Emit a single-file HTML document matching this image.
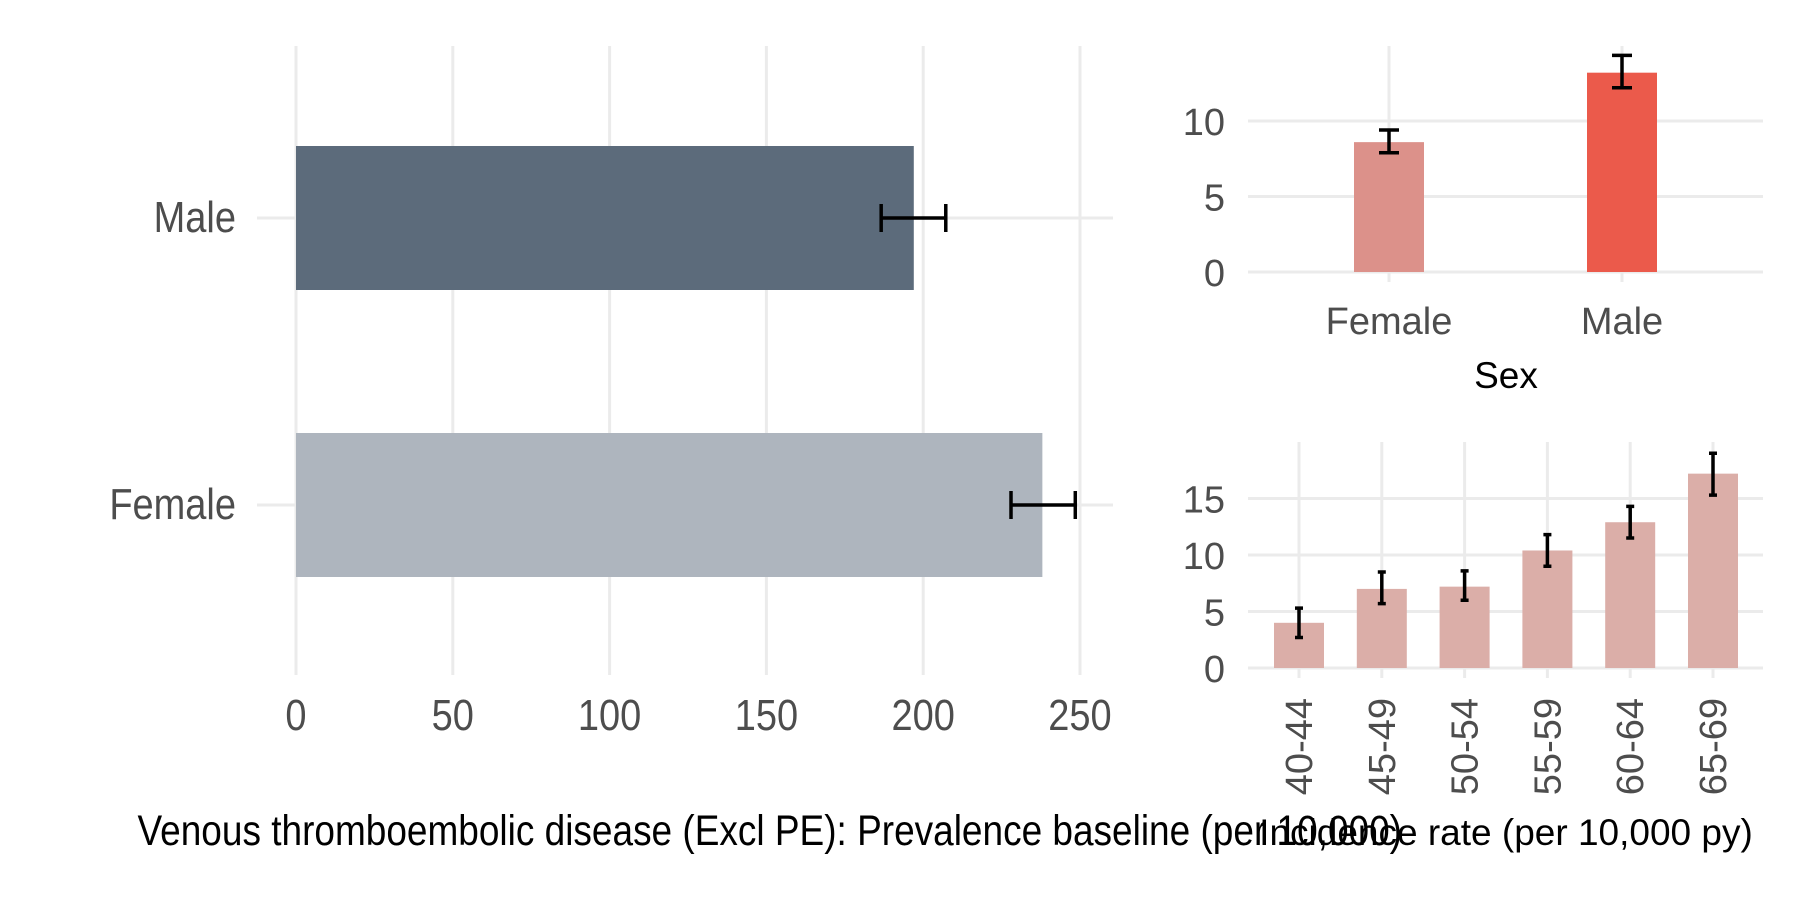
<!DOCTYPE html>
<html><head><meta charset="utf-8"><style>
html,body{margin:0;padding:0;background:#fff;}
svg{display:block;font-family:"Liberation Sans",sans-serif;}
</style></head><body>
<svg id="c" width="1800" height="900" viewBox="0 0 1800 900">
<g id="left"></g>
<g id="rt"></g>
<g id="rb"></g>
<text x="1402" y="845" text-anchor="end" font-size="37" fill="#000" transform="translate(0,845) scale(1,1.15) translate(0,-845)">Venous thromboembolic disease (Excl PE): Prevalence baseline (per 10,000)</text>
<text x="1506" y="845" text-anchor="middle" font-size="37" fill="#000">Incidence rate (per 10,000 py)</text>
<text x="1506" y="388" text-anchor="middle" font-size="37" fill="#000">Sex</text>
</svg>
<script>
const NS="http://www.w3.org/2000/svg";
const prevCats=["Male","Female"];
const prevVals=[197,238];
const prevLo=[186.6,228];
const prevHi=[207.2,248.5];
const prevTicks=[0,50,100,150,200,250];
const sexCats=["Female","Male"];
const sexVals=[8.6,13.2];
const sexLo=[7.9,12.2];
const sexHi=[9.4,14.35];
const sexTicks=[0,5,10];
const ageCats=["40-44","45-49","50-54","55-59","60-64","65-69"];
const ageVals=[4.0,7.0,7.2,10.4,12.9,17.2];
const ageLo=[2.7,5.7,6.0,9.0,11.5,15.3];
const ageHi=[5.3,8.5,8.6,11.8,14.3,19.0];
const ageTicks=[0,5,10,15];

function mk(parent,tag,attrs){const e=document.createElementNS(NS,tag);for(const k in attrs)e.setAttribute(k,attrs[k]);parent.appendChild(e);return e;}
const G="#ebebeb";

// Left panel
const L=document.getElementById('left');
const lx=v=>296+v*3.136;
const lyC=[218,505];
prevTicks.forEach(t=>{
  const l=mk(L,'line',{x1:lx(t),x2:lx(t),y1:46,y2:675,stroke:G,'stroke-width':3});
  
  
  const tx=mk(L,'text',{x:lx(t),y:730,'text-anchor':'middle','font-size':38,fill:'#4d4d4d',transform:`translate(0,730) scale(1,1.15) translate(0,-730)`});
  tx.textContent=t;
  
  
});
prevCats.forEach((c,i)=>{
  const y=lyC[i];
  const g=mk(L,'line',{x1:257,x2:1113,y1:y,y2:y,stroke:G,'stroke-width':3});
  
  
  const r=mk(L,'rect',{x:lx(0),y:y-72,width:lx(prevVals[i])-lx(0),height:144,fill:i==0?'#5c6b7b':'#aeb5be'});
  
  
  const e=mk(L,'path',{d:`M${lx(prevLo[i])},${y}H${lx(prevHi[i])}M${lx(prevLo[i])},${y-14}V${y+14}M${lx(prevHi[i])},${y-14}V${y+14}`,stroke:'#000','stroke-width':3.5,fill:'none'});
  
  
  const t=mk(L,'text',{x:236,y:y+14,'text-anchor':'end','font-size':38,fill:'#4d4d4d',transform:`translate(0,${y+14}) scale(1,1.15) translate(0,${-(y+14)})`});
  t.textContent=c;
  
  
});

// Right top
const RT=document.getElementById('rt');
const ty=v=>272-v*15.1;
const sexX=[1389,1622];
sexX.forEach((x,i)=>{
  const l=mk(RT,'line',{x1:x,x2:x,y1:46,y2:282,stroke:G,'stroke-width':3});
  
  
});
sexTicks.forEach(t=>{
  const l=mk(RT,'line',{x1:1248,x2:1763,y1:ty(t),y2:ty(t),stroke:G,'stroke-width':3});
  
  
  const tx=mk(RT,'text',{x:1225,y:ty(t)+14,'text-anchor':'end','font-size':38,fill:'#4d4d4d'});
  tx.textContent=t;
  
  
});
sexCats.forEach((c,i)=>{
  const x=sexX[i];
  const r=mk(RT,'rect',{x:x-35,y:ty(sexVals[i]),width:70,height:ty(0)-ty(sexVals[i]),fill:i==0?'#dc918a':'#eb5a4b'});
  
  
  const e=mk(RT,'path',{d:`M${x},${ty(sexLo[i])}V${ty(sexHi[i])}M${x-10},${ty(sexLo[i])}H${x+10}M${x-10},${ty(sexHi[i])}H${x+10}`,stroke:'#000','stroke-width':3.5,fill:'none'});
  
  
  const t=mk(RT,'text',{x:x,y:334,'text-anchor':'middle','font-size':38,fill:'#4d4d4d'});
  t.textContent=c;
  
  
});

// Right bottom
const RB=document.getElementById('rb');
const by=v=>668-v*11.3;
const ageX=ageCats.map((c,i)=>1299+i*82.8);
ageX.forEach((x,i)=>{
  const l=mk(RB,'line',{x1:x,x2:x,y1:442,y2:678,stroke:G,'stroke-width':3});
  
  
});
ageTicks.forEach(t=>{
  const l=mk(RB,'line',{x1:1248,x2:1763,y1:by(t),y2:by(t),stroke:G,'stroke-width':3});
  
  
  const tx=mk(RB,'text',{x:1225,y:by(t)+14,'text-anchor':'end','font-size':38,fill:'#4d4d4d'});
  tx.textContent=t;
  
  
});
ageCats.forEach((c,i)=>{
  const x=ageX[i];
  const r=mk(RB,'rect',{x:x-25,y:by(ageVals[i]),width:50,height:by(0)-by(ageVals[i]),fill:'#dbaea8'});
  
  
  const e=mk(RB,'path',{d:`M${x},${by(ageLo[i])}V${by(ageHi[i])}M${x-4},${by(ageLo[i])}H${x+4}M${x-4},${by(ageHi[i])}H${x+4}`,stroke:'#000','stroke-width':3.5,fill:'none'});
  
  
  const t=mk(RB,'text',{x:0,y:0,'text-anchor':'end','font-size':38,fill:'#4d4d4d',transform:`translate(${x+13},698) rotate(-90)`});
  t.textContent=c;
  
  
});
</script>
</body></html>
